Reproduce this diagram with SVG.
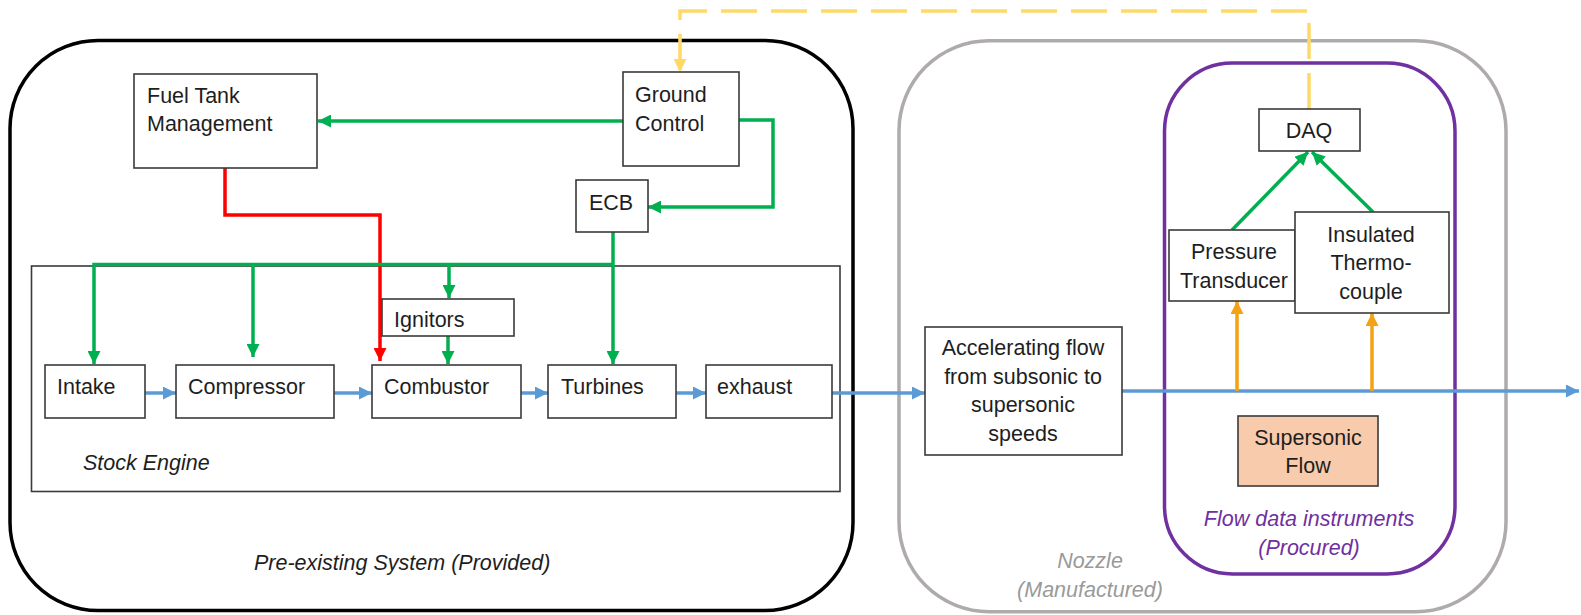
<svg xmlns="http://www.w3.org/2000/svg" width="1581" height="615" viewBox="0 0 1581 615">
<style>
.box{fill:#fff;stroke:#3a3a3a;stroke-width:1.6}
.t{font-family:"Liberation Sans",Arial,sans-serif;font-size:21.5px;fill:#1e1e1e}
.c{text-anchor:middle}
.it{font-style:italic}
.g{fill:none;stroke:#00B050;stroke-width:3.5}
.r{fill:none;stroke:#FF0000;stroke-width:3.5}
.b{fill:none;stroke:#5B9BD5;stroke-width:3.5}
.o{fill:none;stroke:#F4A214;stroke-width:3.5}
.y{fill:none;stroke:#FFD966;stroke-width:3.5;stroke-dasharray:36 14}
</style>
<defs>
<marker id="ag" viewBox="0 0 13 13" refX="13" refY="6.5" markerWidth="13" markerHeight="13" markerUnits="userSpaceOnUse" orient="auto"><path d="M0,0 L13,6.5 L0,13 z" fill="#00B050"/></marker>
<marker id="ar" viewBox="0 0 13 13" refX="13" refY="6.5" markerWidth="13" markerHeight="13" markerUnits="userSpaceOnUse" orient="auto"><path d="M0,0 L13,6.5 L0,13 z" fill="#FF0000"/></marker>
<marker id="ab" viewBox="0 0 13 13" refX="13" refY="6.5" markerWidth="13" markerHeight="13" markerUnits="userSpaceOnUse" orient="auto"><path d="M0,0 L13,6.5 L0,13 z" fill="#5B9BD5"/></marker>
<marker id="ao" viewBox="0 0 13 13" refX="13" refY="6.5" markerWidth="13" markerHeight="13" markerUnits="userSpaceOnUse" orient="auto"><path d="M0,0 L13,6.5 L0,13 z" fill="#F4A214"/></marker>
<marker id="ay" viewBox="0 0 13 13" refX="13" refY="6.5" markerWidth="13" markerHeight="13" markerUnits="userSpaceOnUse" orient="auto"><path d="M0,0 L13,6.5 L0,13 z" fill="#FFD966"/></marker>
</defs>

<g id="preexisting">
<rect x="10" y="40.5" width="843" height="570" rx="88" ry="88" fill="none" stroke="#000" stroke-width="3.5"/>
<text class="t it" x="254" y="570">Pre-existing System (Provided)</text>
</g>
<g id="nozzle">
<rect x="899" y="40.7" width="607" height="571" rx="90" ry="90" fill="none" stroke="#AFABAB" stroke-width="3.5"/>
<text class="t it c" x="1090" y="568" style="fill:#9a9a9a">Nozzle</text>
<text class="t it c" x="1090" y="597" style="fill:#9a9a9a">(Manufactured)</text>
</g>
<g id="instruments">
<rect x="1164.5" y="63" width="290.5" height="511" rx="68" ry="68" fill="none" stroke="#7030A0" stroke-width="3.5"/>
<text class="t it c" x="1309" y="526" style="fill:#7030A0">Flow data instruments</text>
<text class="t it c" x="1309" y="555" style="fill:#7030A0">(Procured)</text>
</g>
<g id="stock-engine">
<rect x="31.5" y="266" width="808.5" height="225.5" fill="none" stroke="#3a3a3a" stroke-width="1.6"/>
<text class="t it" x="83" y="470">Stock Engine</text>
</g>

<g id="connectors">
<path class="y" d="M1309,109 V11 H680 V72" marker-end="url(#ay)"/>
<path class="g" d="M623,121 H318" marker-end="url(#ag)"/>
<path class="g" d="M739,120 H773 V207 H648" marker-end="url(#ag)"/>
<path class="r" d="M225,168 V215 H380 V361" marker-end="url(#ar)"/>
<path class="g" d="M613,232 V364" marker-end="url(#ag)"/>
<path class="g" d="M613,264.5 H94 V364" marker-end="url(#ag)"/>
<path class="g" d="M253,264.5 V357" marker-end="url(#ag)"/>
<path class="g" d="M449,264.5 V298" marker-end="url(#ag)"/>
<path class="g" d="M448,336 V364" marker-end="url(#ag)"/>
<path class="b" d="M145,393 H176" marker-end="url(#ab)"/>
<path class="b" d="M334,393 H372" marker-end="url(#ab)"/>
<path class="b" d="M521,393 H548" marker-end="url(#ab)"/>
<path class="b" d="M676,393 H706" marker-end="url(#ab)"/>
<path class="b" d="M832,393 H925" marker-end="url(#ab)"/>
<path class="b" d="M1122,391 H1579" marker-end="url(#ab)"/>
<path class="o" d="M1237,391 V301" marker-end="url(#ao)"/>
<path class="o" d="M1372,391 V313" marker-end="url(#ao)"/>
<path class="g" d="M1232,230 L1308,152" marker-end="url(#ag)"/>
<path class="g" d="M1373,212 L1312,152" marker-end="url(#ag)"/>
</g>

<g id="fuel-tank">
<rect class="box" x="134" y="74" width="183" height="94"/>
<text class="t" x="147" y="103">Fuel Tank</text>
<text class="t" x="147" y="131">Management</text>
</g>
<g id="ground-control">
<rect class="box" x="623" y="72" width="116" height="94"/>
<text class="t" x="635" y="102">Ground</text>
<text class="t" x="635" y="131">Control</text>
</g>
<g id="ecb">
<rect class="box" x="576" y="180" width="72" height="52"/>
<text class="t" x="589" y="210">ECB</text>
</g>
<g id="ignitors">
<rect class="box" x="382" y="299" width="132" height="37"/>
<text class="t" x="394" y="327">Ignitors</text>
</g>
<g id="intake">
<rect class="box" x="45" y="365" width="100" height="53"/>
<text class="t" x="57" y="394">Intake</text>
</g>
<g id="compressor">
<rect class="box" x="176" y="365" width="158" height="53"/>
<text class="t" x="188" y="394">Compressor</text>
</g>
<g id="combustor">
<rect class="box" x="372" y="365" width="149" height="53"/>
<text class="t" x="384" y="394">Combustor</text>
</g>
<g id="turbines">
<rect class="box" x="548" y="365" width="128" height="53"/>
<text class="t" x="561" y="394">Turbines</text>
</g>
<g id="exhaust">
<rect class="box" x="706" y="365" width="126" height="53"/>
<text class="t" x="717" y="394">exhaust</text>
</g>
<g id="accelerating">
<rect class="box" x="925" y="327" width="197" height="128"/>
<text class="t c" x="1023" y="355">Accelerating flow</text>
<text class="t c" x="1023" y="384">from subsonic to</text>
<text class="t c" x="1023" y="412">supersonic</text>
<text class="t c" x="1023" y="441">speeds</text>
</g>
<g id="daq">
<rect class="box" x="1259" y="109" width="101" height="42"/>
<text class="t c" x="1309" y="138">DAQ</text>
</g>
<g id="pressure">
<rect class="box" x="1169" y="230" width="126" height="71"/>
<text class="t c" x="1234" y="259">Pressure</text>
<text class="t c" x="1234" y="288">Transducer</text>
</g>
<g id="thermocouple">
<rect class="box" x="1295" y="212" width="154" height="101"/>
<text class="t c" x="1371" y="242">Insulated</text>
<text class="t c" x="1371" y="270">Thermo-</text>
<text class="t c" x="1371" y="299">couple</text>
</g>
<g id="supersonic">
<rect x="1238" y="416" width="140" height="70" fill="#F8CBAD" stroke="#3a3a3a" stroke-width="1.6"/>
<text class="t c" x="1308" y="445">Supersonic</text>
<text class="t c" x="1308" y="473">Flow</text>
</g>
</svg>
